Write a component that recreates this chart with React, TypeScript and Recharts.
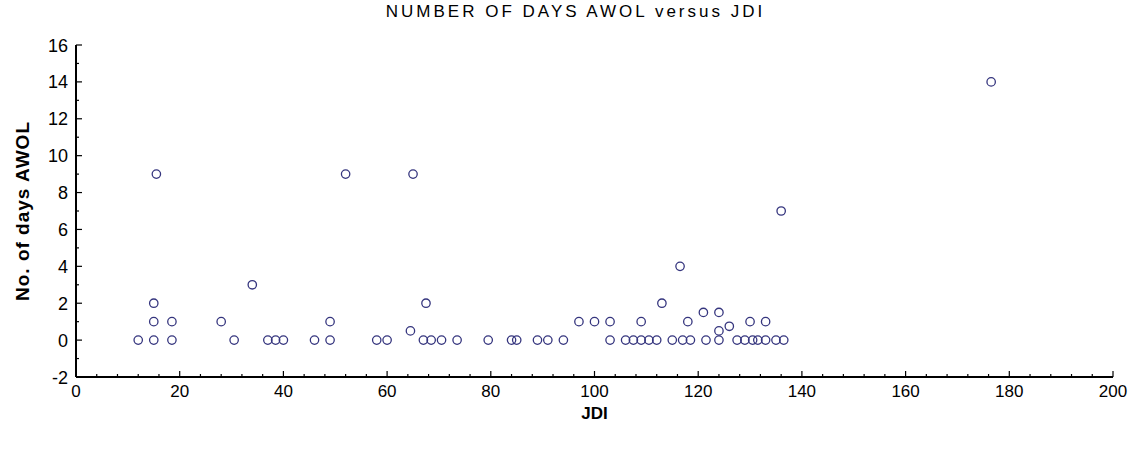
import React from "react";
import { ScatterChart, Scatter, XAxis, YAxis } from "recharts";

// JDI score vs number of days AWOL
const JDI = [
  12, 15, 18.5, 30.5, 37, 38.5, 40, 46, 49, 58, 60, 67, 68.5, 70.5, 73.5, 79.5,
  84, 85, 89, 91, 94, 103, 106, 107.5, 109, 110.5, 112, 115, 117, 118.5, 121.5,
  124, 127.5, 129, 130.5, 131.5, 133, 135, 136.5,
  15, 18.5, 28, 49, 97, 100, 103, 109, 118, 130, 133,
  15, 67.5, 113,
  34,
  64.5, 124, 126,
  121, 124,
  116.5,
  136,
  15.5, 52, 65,
  176.5,
];
const AWOL = [
  0, 0, 0, 0, 0, 0, 0, 0, 0, 0, 0, 0, 0, 0, 0, 0,
  0, 0, 0, 0, 0, 0, 0, 0, 0, 0, 0, 0, 0, 0, 0,
  0, 0, 0, 0, 0, 0, 0, 0,
  1, 1, 1, 1, 1, 1, 1, 1, 1, 1, 1,
  2, 2, 2,
  3,
  0.5, 0.5, 0.75,
  1.5, 1.5,
  4,
  7,
  9, 9, 9,
  14,
];

const X_TICKS = Array.from({ length: 51 }, (_, i) => i * 4);
const Y_TICKS = Array.from({ length: 19 }, (_, i) => i - 2);

const points = JDI.map((x, i) => ({ jdi: x, awol: AWOL[i] }));

const FONT = '"Liberation Sans", Arial, sans-serif';
const GAP = 8;

function BottomTick(props: any) {
  const { x, y, payload } = props;
  const axisY = y - GAP;
  const major = payload.value % 20 === 0;
  return (
    <g>
      <line x1={x} x2={x} y1={axisY} y2={axisY - (major ? 6 : 3)} stroke="#000" strokeWidth={1.2} />
      {major && (
        <text x={x} y={axisY + 20} textAnchor="middle" fontSize={17} fontFamily={FONT} fill="#000">
          {payload.value}
        </text>
      )}
    </g>
  );
}

function TopTick(props: any) {
  const { x, y, payload } = props;
  const axisY = y + GAP;
  const major = payload.value % 20 === 0;
  return <line x1={x} x2={x} y1={axisY} y2={axisY + (major ? 6 : 3)} stroke="#000" strokeWidth={1.2} />;
}

function LeftTick(props: any) {
  const { x, y, payload } = props;
  const axisX = x + GAP;
  const major = payload.value % 2 === 0;
  return (
    <g>
      <line x1={axisX} x2={axisX + (major ? 6 : 3)} y1={y} y2={y} stroke="#000" strokeWidth={1.2} />
      {major && (
        <text x={axisX - 8} y={y + 6.5} textAnchor="end" fontSize={18} fontFamily={FONT} fill="#000">
          {payload.value}
        </text>
      )}
    </g>
  );
}

function RightTick(props: any) {
  const { x, y, payload } = props;
  const axisX = x - GAP;
  const major = payload.value % 2 === 0;
  return <line x1={axisX} x2={axisX - (major ? 6 : 3)} y1={y} y2={y} stroke="#000" strokeWidth={1.2} />;
}

function Ring(props: any) {
  const { cx, cy } = props;
  return <circle cx={cx} cy={cy} r={4.2} fill="none" stroke="#35357e" strokeWidth={1.3} />;
}

export default function App() {
  const axisLine = { stroke: "#000", strokeWidth: 2 };
  return (
    <div style={{ position: "absolute", left: 0, top: 0, width: 1143, height: 450, background: "#fff" }}>
      <div
        style={{
          position: "absolute",
          top: 2,
          left: 0,
          width: 1143,
          textAlign: "center",
          fontFamily: FONT,
          fontSize: 17,
          letterSpacing: 3,
          color: "#000",
          paddingLeft: 8,
          boxSizing: "border-box",
        }}
      >
        NUMBER OF DAYS AWOL versus JDI
      </div>
      <ScatterChart width={1143} height={450} margin={{ top: 45, right: 30, bottom: 0, left: 16 }}>
        <XAxis
          xAxisId="b"
          dataKey="jdi"
          type="number"
          domain={[0, 200]}
          ticks={X_TICKS}
          interval={0}
          height={73}
          tickSize={0}
          tickMargin={GAP}
          tick={<BottomTick />}
          axisLine={axisLine}
          tickLine={false}
          label={{
            content: ({ viewBox }: any) => (
              <text
                x={viewBox.x + viewBox.width / 2}
                y={viewBox.y + 42}
                textAnchor="middle"
                fontSize={17}
                fontWeight="bold"
                fontFamily={FONT}
              >
                JDI
              </text>
            ),
          }}
        />
        <XAxis
          xAxisId="t"
          orientation="top"
          type="number"
          domain={[0, 200]}
          ticks={X_TICKS}
          interval={0}
          height={0}
          tickSize={0}
          tickMargin={GAP}
          tick={<TopTick />}
          axisLine={axisLine}
          tickLine={false}
        />
        <YAxis
          yAxisId="l"
          dataKey="awol"
          type="number"
          domain={[-2, 16]}
          ticks={Y_TICKS}
          interval={0}
          width={60}
          tickSize={0}
          tickMargin={GAP}
          tick={<LeftTick />}
          axisLine={axisLine}
          tickLine={false}
          label={{
            content: ({ viewBox }: any) => {
              const cx = 22;
              const cy = viewBox.y + viewBox.height / 2;
              return (
                <text
                  x={cx}
                  y={cy}
                  transform={`rotate(-90 ${cx} ${cy})`}
                  textAnchor="middle"
                  dominantBaseline="central"
                  fontSize={19}
                  fontWeight="bold"
                  letterSpacing={1}
                  fontFamily={FONT}
                >
                  No. of days AWOL
                </text>
              );
            },
          }}
        />
        <YAxis
          yAxisId="r"
          orientation="right"
          type="number"
          domain={[-2, 16]}
          ticks={Y_TICKS}
          interval={0}
          width={0}
          tickSize={0}
          tickMargin={GAP}
          tick={<RightTick />}
          axisLine={axisLine}
          tickLine={false}
        />
        <Scatter
          xAxisId="b"
          yAxisId="l"
          data={points}
          shape={<Ring />}
          isAnimationActive={false}
        />
      </ScatterChart>
    </div>
  );
}
